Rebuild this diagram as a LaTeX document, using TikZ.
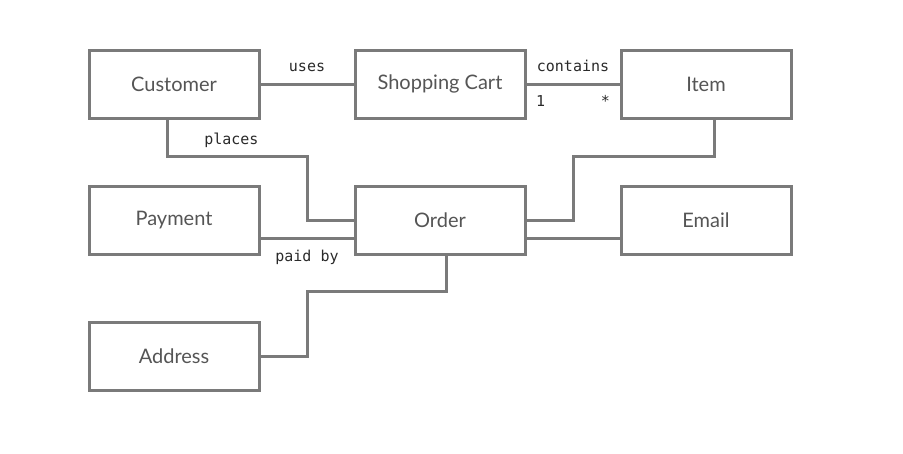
\documentclass[tikz,border=0pt]{standalone}
\usepackage{fontspec}
\setmainfont{Lato}
\setmonofont{DejaVu Sans Mono}
\usetikzlibrary{positioning}
\definecolor{boxgray}{HTML}{7A7A7A}
\definecolor{textgray}{HTML}{555555}
\definecolor{relgray}{HTML}{2A2A2A}
\tikzset{
  entity/.style={ draw=boxgray, line width=3pt, fill=white, minimum width=170pt, minimum height=68pt, outer sep=0pt, text=textgray, font=\fontsize{20}{22}\selectfont }
}
\tikzset{
  rel/.style={ font=\ttfamily\fontsize{15}{17}\selectfont, text=relgray, inner sep=0pt }
}
\tikzset{
  link/.style={ draw=boxgray, line width=3pt }
}

\begin{document}
\begin{tikzpicture}[x=1pt, y=-1pt, node distance=68pt and 96pt]
        \useasboundingbox (0,0) rectangle (903,453);
        % top row
        \node[entity] (cust) at (174, 84) {Customer};
        \node[entity, right=of cust] (cart) {Shopping Cart};
        \node[entity, right=of cart] (item) {Item};
        % middle row
        \node[entity, below=of cust] (pay) {Payment};
        \node[entity, below=of cart] (order) {Order};
        \node[entity, below=of item] (email) {Email};
        % bottom row
        \node[entity, below=of pay] (addr) {Address};
        % associations
        \draw[link] (cust) -- node[rel, midway, above=11pt] {uses} (cart);
        \draw[link] (cart) -- node[rel, midway, above=11pt] {contains} (item);
        \node[rel, below right=11pt and 11pt] at (cart.east) {1};
        \node[rel, below left=11pt and 11pt] at (item.west) {*};
        \draw[link] ([xshift=-7pt]cust.south) |- node[rel, pos=0.73, above=7pt] {places} (307,156) |- (order.west);
        \draw[link] ([xshift=8pt]item.south) |- (573,156) |- (order.east);
        \draw[link] ([yshift=-18pt]pay.east) -- node[rel, midway, below=11pt] {paid by} ([yshift=-18pt]order.west);
        \draw[link] ([yshift=-18pt]order.east) -- ([yshift=-18pt]email.west);
        \draw[link] ([xshift=6pt]order.south) |- (307,291) |- (addr.east);
      \end{tikzpicture}
\end{document}
